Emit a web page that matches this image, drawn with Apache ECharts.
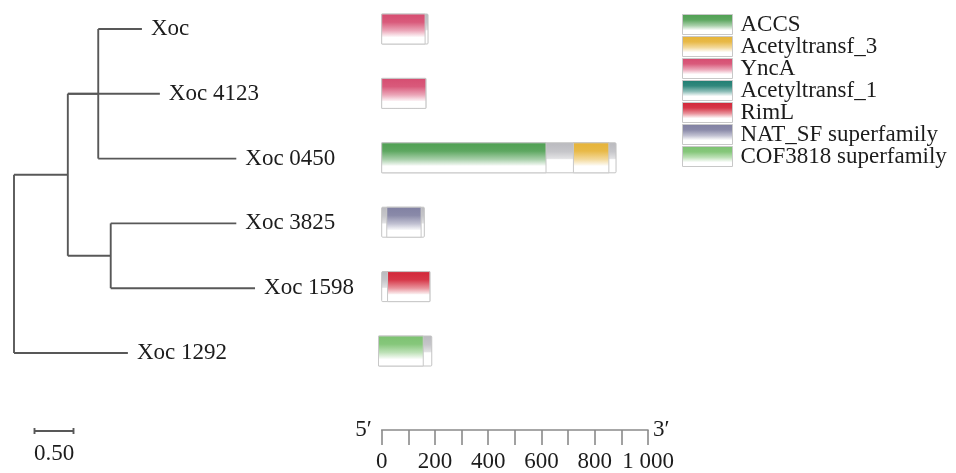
<!DOCTYPE html>
<html><head><meta charset="utf-8">
<script src="https://cdn.jsdelivr.net/npm/echarts@6/dist/echarts.min.js"></script>
<style>html,body{margin:0;padding:0;background:#fff}#c{width:956px;height:473px}</style>
</head><body><div id="c"></div>
<script>
// ---- data ----
const leaves = ['Xoc', 'Xoc 4123', 'Xoc 0450', 'Xoc 3825', 'Xoc 1598', 'Xoc 1292'];
const treeNodes   = ['root', 'A', 'B', 'C', 'Xoc', 'Xoc 4123', 'Xoc 0450', 'Xoc 3825', 'Xoc 1598', 'Xoc 1292'];
const treeParents = [null, 'root', 'A', 'A', 'B', 'A', 'B', 'C', 'C', 'root'];
const treeDepths  = [0, 0.69, 1.08, 1.24, 1.64, 1.87, 2.85, 2.85, 3.09, 1.46];
const scaleBarLength = 0.5;
const scaleBarLabel = '0.50';

const proteinStart  = [0, 0, 0, 0, 0, -12];
const proteinLength = [174, 166, 880, 160, 181, 188];

const domainNames  = ['ACCS', 'Acetyltransf_3', 'YncA', 'Acetyltransf_1', 'RimL', 'NAT_SF superfamily', 'COF3818 superfamily'];
const domainColors = ['#4f9f52', '#e6b337', '#d64c70', '#1f7e72', '#d22638', '#8080a2', '#7cc270'];
const domRow   = [0, 1, 2, 2, 3, 4, 5];
const domType  = ['YncA', 'YncA', 'ACCS', 'Acetyltransf_3', 'NAT_SF superfamily', 'RimL', 'COF3818 superfamily'];
const domStart = [0, 0, 0, 720, 19, 22, -12];
const domEnd   = [163, 166, 617, 853, 148, 181, 156];

const axisMax = 1000;
const axisInterval = 100;
const axisTickLabels = ['0', '', '200', '', '400', '', '600', '', '800', '', '1 000'];
const axisStartName = '5\u2032';
const axisEndName = '3\u2032';

// ---- helpers ----
const FONT = '"Liberation Serif", "Times New Roman", serif';
function mix(hex, t) {
  const n = parseInt(hex.slice(1), 16);
  const r = n >> 16, g = (n >> 8) & 255, b = n & 255;
  const f = v => Math.round(v + (255 - v) * t);
  return 'rgb(' + f(r) + ',' + f(g) + ',' + f(b) + ')';
}
function domGrad(c) {
  return new echarts.graphic.LinearGradient(0, 0, 0, 1, [
    { offset: 0, color: mix(c, 0.0) },
    { offset: 0.28, color: mix(c, 0.08) },
    { offset: 0.55, color: mix(c, 0.5) },
    { offset: 0.74, color: mix(c, 0.92) },
    { offset: 0.76, color: '#ffffff' },
    { offset: 1, color: '#ffffff' }
  ]);
}
const greyGrad = new echarts.graphic.LinearGradient(0, 0, 0, 1, [
  { offset: 0, color: '#b9b9be' },
  { offset: 0.3, color: '#c6c6ca' },
  { offset: 0.52, color: '#e2e2e4' },
  { offset: 0.56, color: '#ffffff' },
  { offset: 1, color: '#ffffff' }
]);

// tree layout: y of leaves = row index, internal = middle of children span
const nodeY = {};
const children = {};
treeNodes.forEach((n, i) => { const p = treeParents[i]; if (p) (children[p] = children[p] || []).push(n); });
function getY(n) {
  if (nodeY[n] !== undefined) return nodeY[n];
  if (leaves.indexOf(n) >= 0) return (nodeY[n] = leaves.indexOf(n));
  const ys = children[n].map(getY);
  return (nodeY[n] = (Math.min(...ys) + Math.max(...ys)) / 2);
}
treeNodes.forEach(getY);
const depthOf = n => treeDepths[treeNodes.indexOf(n)];

const BAR_H = 30;
const chart = echarts.init(document.getElementById('c'), null, { renderer: 'canvas' });

const treeData = treeNodes.map((n, i) => [treeDepths[i], nodeY[n]]);

const series = [];
// tree
series.push({
  type: 'custom', name: 'tree', xAxisIndex: 0, yAxisIndex: 0, clip: false, silent: true,
  data: treeData,
  renderItem: function (params, api) {
    const i = params.dataIndex;
    const n = treeNodes[i];
    const ch = [];
    const lineStyle = { stroke: '#585858', lineWidth: 1.9 };
    const p = api.coord([api.value(0), api.value(1)]);
    if (treeParents[i]) {
      const pp = api.coord([depthOf(treeParents[i]), api.value(1)]);
      ch.push({ type: 'line', shape: { x1: pp[0], y1: p[1], x2: p[0], y2: p[1] }, style: lineStyle });
    }
    if (children[n]) {
      const ys = children[n].map(c => nodeY[c]);
      const a = api.coord([api.value(0), Math.min(...ys)]);
      const b = api.coord([api.value(0), Math.max(...ys)]);
      ch.push({ type: 'line', shape: { x1: a[0], y1: a[1], x2: b[0], y2: b[1] }, style: lineStyle });
    } else {
      ch.push({ type: 'text', style: { text: n, x: p[0] + 9, y: p[1], fill: '#1c1c1c', font: '23px ' + FONT, align: 'left', verticalAlign: 'middle' } });
    }
    return { type: 'group', children: ch };
  }
});
// scale bar
series.push({
  type: 'custom', name: 'scale', xAxisIndex: 0, yAxisIndex: 0, clip: false, silent: true,
  data: [[scaleBarLength]],
  renderItem: function (params, api) {
    const x0 = api.coord([0, 0])[0] + 20.5;
    const w = api.size([api.value(0), 0])[0];
    const y = 431;
    const st = { stroke: '#585858', lineWidth: 1.9 };
    return { type: 'group', children: [
      { type: 'line', shape: { x1: x0, y1: y, x2: x0 + w, y2: y }, style: st },
      { type: 'line', shape: { x1: x0, y1: y - 3, x2: x0, y2: y + 3 }, style: st },
      { type: 'line', shape: { x1: x0 + w, y1: y - 3, x2: x0 + w, y2: y + 3 }, style: st },
      { type: 'text', style: { text: scaleBarLabel, x: x0 + w / 2, y: 454, fill: '#1c1c1c', font: '23px ' + FONT, align: 'center', verticalAlign: 'middle' } }
    ] };
  }
});
// protein backbones
series.push({
  type: 'custom', name: 'protein', xAxisIndex: 1, yAxisIndex: 1, clip: false, silent: true,
  data: proteinLength.map((L, i) => [proteinStart[i], L, i]),
  renderItem: function (params, api) {
    const a = api.coord([api.value(0), api.value(2)]);
    const b = api.coord([api.value(1), api.value(2)]);
    return { type: 'rect', shape: { x: a[0], y: a[1] - BAR_H / 2, width: b[0] - a[0], height: BAR_H, r: 1 },
      style: { fill: greyGrad, stroke: '#c4c4c4', lineWidth: 1 } };
  }
});
// domains, one series per domain type
domainNames.forEach((name, k) => {
  const data = [];
  domType.forEach((t, j) => { if (t === name) data.push([domStart[j], domEnd[j], domRow[j]]); });
  series.push({
    type: 'custom', name: name, xAxisIndex: 1, yAxisIndex: 1, clip: false, silent: true,
    itemStyle: { color: domGrad(domainColors[k]) },
    data: data,
    renderItem: function (params, api) {
      const a = api.coord([api.value(0), api.value(2)]);
      const b = api.coord([api.value(1), api.value(2)]);
      const y0 = a[1] - BAR_H / 2;
      return { type: 'rect', shape: { x: a[0], y: y0, width: b[0] - a[0], height: BAR_H },
          style: { fill: domGrad(domainColors[k]), stroke: '#c8c8c8', lineWidth: 1 } };
    }
  });
});

const option = {
  backgroundColor: '#ffffff',
  animation: false,
  grid: [
    { left: 14, top: 29, width: 312, height: 324 },
    { left: 381.7, top: 29, width: 266.3, height: 324 }
  ],
  xAxis: [
    { gridIndex: 0, type: 'value', min: 0, max: 4, show: false },
    { gridIndex: 1, type: 'value', min: 0, max: axisMax, interval: axisInterval, position: 'bottom', offset: 79,
      axisLine: { show: true, onZero: false, lineStyle: { color: '#8a8a8a', width: 1.6 } },
      axisTick: { show: true, inside: false, length: 15, lineStyle: { color: '#8a8a8a', width: 1.6 } },
      splitLine: { show: false },
      axisLabel: { margin: 20, color: '#1c1c1c', fontFamily: FONT, fontSize: 23,
        formatter: function (v) { return axisTickLabels[Math.round(v / axisInterval)] || ''; } },
      name: axisEndName, nameLocation: 'end', nameGap: 5,
      nameTextStyle: { color: '#1c1c1c', fontFamily: FONT, fontSize: 23, verticalAlign: 'middle' } },
    { gridIndex: 1, type: 'value', min: 0, max: axisMax, position: 'bottom', offset: 79,
      axisLine: { show: false, onZero: false }, axisTick: { show: false }, axisLabel: { show: false }, splitLine: { show: false },
      name: axisStartName, nameLocation: 'start', nameGap: 10,
      nameTextStyle: { color: '#1c1c1c', fontFamily: FONT, fontSize: 23, verticalAlign: 'middle' } }
  ],
  yAxis: [
    { gridIndex: 0, type: 'value', min: 0, max: 5, inverse: true, show: false },
    { gridIndex: 1, type: 'value', min: 0, max: 5, inverse: true, show: false }
  ],
  legend: {
    orient: 'vertical', left: 682, top: 13, padding: 0, itemWidth: 50, itemHeight: 20, itemGap: -1,
    icon: 'rect', selectedMode: false, data: domainNames,
    itemStyle: { borderColor: '#c8c8c8', borderWidth: 1 },
    textStyle: { color: '#1c1c1c', fontFamily: FONT, fontSize: 23, padding: [0, 0, 0, 3] }
  },
  series: series
};
chart.setOption(option);
</script>
</body></html>
